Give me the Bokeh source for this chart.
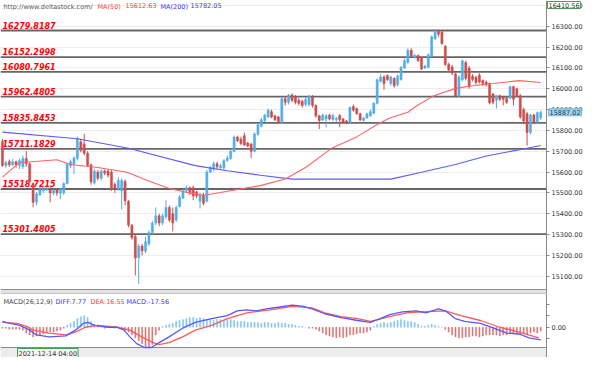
from bokeh.plotting import figure
from bokeh.models import Range1d, Label, SingleIntervalTicker, FixedTicker, PrintfTickFormatter, ColumnDataSource
from bokeh.core.properties import value
from bokeh.layouts import column
from bokeh.embed import file_html
from bokeh.resources import INLINE

# ---------------- data ----------------
ohlc = [
    (15746, 15632, 15760, 15625), (15632, 15645, 15655, 15620), (15650, 15635, 15660, 15625),
    (15635, 15650, 15662, 15628), (15650, 15635, 15655, 15620), (15632, 15655, 15665, 15615),
    (15625, 15665, 15680, 15615), (15665, 15640, 15700, 15625), (15640, 15555, 15645, 15545),
    (15545, 15455, 15550, 15430), (15455, 15495, 15505, 15440), (15490, 15518, 15528, 15485),
    (15510, 15525, 15535, 15500), (15518, 15520, 15530, 15510), (15520, 15500, 15528, 15455),
    (15498, 15512, 15520, 15490), (15515, 15500, 15522, 15485), (15498, 15518, 15525, 15470),
    (15500, 15545, 15550, 15490), (15545, 15638, 15645, 15540), (15630, 15650, 15660, 15620),
    (15640, 15668, 15675, 15590), (15665, 15760, 15770, 15655), (15745, 15705, 15760, 15695),
    (15735, 15690, 15783, 15680), (15690, 15632, 15700, 15625), (15635, 15553, 15640, 15540),
    (15548, 15605, 15615, 15540), (15600, 15570, 15610, 15560), (15570, 15605, 15612, 15560),
    (15605, 15595, 15612, 15585),
    (15605, 15585, 15615, 15575), (15600, 15520, 15610, 15510), (15540, 15525, 15550, 15500),
    (15520, 15560, 15575, 15510), (15510, 15560, 15570, 15420), (15555, 15462, 15565, 15440),
    (15460, 15345, 15465, 15335), (15345, 15285, 15350, 15275), (15290, 15187, 15300, 15103),
    (15190, 15245, 15255, 15063), (15245, 15222, 15255, 15200), (15220, 15265, 15290, 15210),
    (15255, 15310, 15320, 15245), (15310, 15355, 15365, 15300), (15355, 15390, 15430, 15345),
    (15390, 15355, 15400, 15340), (15355, 15390, 15400, 15345), (15385, 15430, 15465, 15375),
    (15430, 15370, 15440, 15360), (15400, 15355, 15430, 15315), (15370, 15430, 15440, 15360),
    (15435, 15480, 15490, 15430), (15475, 15510, 15520, 15470), (15510, 15525, 15535, 15500),
    (15525, 15500, 15530, 15490), (15525, 15485, 15535, 15465), (15505, 15485, 15510, 15475),
    (15460, 15490, 15500, 15425), (15490, 15450, 15500, 15440), (15460, 15600, 15610, 15455),
    (15600, 15622, 15630, 15595), (15615, 15640, 15650, 15605), (15640, 15625, 15650, 15615),
    (15620, 15630, 15640, 15612), (15620, 15655, 15662, 15610), (15655, 15668, 15680, 15650),
    (15665, 15700, 15708, 15660), (15700, 15768, 15775, 15695), (15768, 15750, 15775, 15745),
    (15758, 15737, 15770, 15730), (15775, 15730, 15790, 15725), (15740, 15725, 15745, 15720),
    (15735, 15700, 15740, 15668), (15700, 15783, 15790, 15695), (15780, 15828, 15835, 15775),
    (15820, 15851, 15860, 15815), (15848, 15874, 15880, 15840), (15865, 15897, 15905, 15860),
    (15890, 15865, 15900, 15858), (15870, 15851, 15875, 15845), (15865, 15838, 15870, 15830),
    (15838, 15952, 15960, 15830), (15952, 15935, 15965, 15920), (15935, 15970, 15975, 15925),
    (15970, 15945, 15978, 15935), (15960, 15935, 15970, 15925), (15945, 15930, 15955, 15920),
    (15940, 15920, 15948, 15910), (15925, 15950, 15958, 15915), (15925, 15965, 15970, 15915),
    (15960, 15920, 15970, 15910), (15920, 15870, 15925, 15860), (15870, 15848, 15875, 15806),
    (15850, 15874, 15880, 15845), (15855, 15870, 15878, 15815), (15874, 15855, 15880, 15848),
    (15852, 15872, 15880, 15845), (15852, 15858, 15865, 15840), (15872, 15852, 15878, 15815),
    (15855, 15840, 15860, 15832), (15845, 15835, 15850, 15830), (15838, 15910, 15915, 15832),
    (15915, 15897, 15925, 15890), (15905, 15880, 15910, 15875), (15880, 15850, 15885, 15845),
    (15848, 15860, 15865, 15843), (15860, 15880, 15885, 15855), (15870, 15890, 15900, 15865),
    (15883, 15930, 15935, 15878), (15930, 16043, 16050, 15925), (16035, 16057, 16070, 16030),
    (16057, 16025, 16065, 15995), (16064, 16043, 16068, 16038), (16025, 16057, 16062, 16015),
    (16050, 16015, 16055, 16005), (16020, 16062, 16068, 16010), (16043, 16103, 16110, 16040),
    (16100, 16135, 16145, 16095), (16126, 16185, 16195, 16120), (16185, 16158, 16195, 16150),
    (16150, 16160, 16168, 16145), (16160, 16135, 16165, 16130), (16150, 16095, 16155, 16090),
    (16100, 16110, 16115, 16095), (16103, 16163, 16170, 16098), (16158, 16250, 16256, 16150),
    (16240, 16272, 16286, 16235), (16275, 16262, 16280, 16250), (16272, 16218, 16280, 16210),
    (16204, 16117, 16210, 16110), (16117, 16090, 16125, 16080), (16105, 16075, 16115, 16065),
    (16071, 15966, 16080, 15960), (15966, 16057, 16065, 15960), (16043, 16135, 16140, 16035),
    (16126, 16050, 16135, 16040), (16100, 16012, 16110, 16000), (16060, 16045, 16070, 16035),
    (16055, 16030, 16062, 16020), (16065, 16032, 16075, 16025), (16040, 16025, 16045, 16015),
    (16032, 16020, 16040, 16010), (16025, 15933, 16030, 15925), (15975, 15935, 15980, 15925),
    (15945, 15966, 15970, 15905), (15966, 15950, 15972, 15940), (15960, 15950, 15966, 15920),
    (15955, 15935, 15960, 15928), (15955, 16010, 16015, 15950), (16010, 15950, 16015, 15920),
    (16000, 15966, 16005, 15960), (15966, 15865, 15975, 15855), (15900, 15845, 15910, 15830),
    (15880, 15790, 15890, 15727), (15790, 15874, 15880, 15780), (15874, 15840, 15880, 15830),
    (15840, 15885, 15890, 15830), (15860, 15887.02, 15895, 15850),
]
open_ = [r[0] for r in ohlc]
close_ = [r[1] for r in ohlc]
high_ = [r[2] for r in ohlc]
low_ = [r[3] for r in ohlc]

ma50_x = [0, 5, 16, 20, 28, 36.6, 42, 49, 56.6, 59.4, 66, 75.7, 83, 89, 96.6, 104, 110, 113.7,
          119, 121.7, 126.6, 129, 133, 138.6, 144, 151.7, 158]
ma50_v = [15576, 15645, 15659, 15636, 15622, 15599, 15563, 15521, 15494, 15489, 15508, 15535,
          15567, 15622, 15714, 15769, 15828, 15860, 15887, 15920, 15966, 15980, 16002, 16016,
          16025, 16039, 16030]
ma200_x = [0, 22, 37, 56.6, 66, 75.7, 85, 99, 114, 123, 133, 142, 154, 158]
ma200_v = [15792, 15760, 15714, 15631, 15606, 15585, 15566, 15566, 15566, 15599, 15636, 15677,
           15714, 15728]

levels = [16279.8187, 16152.2998, 16080.7961, 15962.4805, 15835.8453, 15711.1829, 15518.7215, 15301.4805]
level_text = ["16279.8187", "16152.2998", "16080.7961", "15962.4805", "15835.8453", "15711.1829",
              "15518.7215", "15301.4805"]

hist = ([-1, -1, -2, -2, -2, -2] + [-3, -6, -8, -10, -9] + [-8, -7, -6, -5, -5] + [-4, -3, -1]
        + [2, 4, 6, 9, 11, 12, 10, 6, 3] + [1, 0, -1, 1, 0, -1, -1, -2]
        + [-3, -5, -8, -11, -14, -17, -20, -21, -18] + [-8, -3] + [1, 2, 3, 4]
        + [6, 7, 8, 9, 10, 10, 9, 10, 9, 8, 8, 7] + [8, 8, 7, 8, 8, 7, 6, 6, 6, 5]
        + [5, 5, 5, 4, 5, 5, 4, 4, 5, 4, 4, 3, 3] + [2, 1, 1, 0, -1, -1, -2, -4]
        + [-6, -8, -9, -10, -11, -10, -11, -10, -8, -8, -7, -6, -6, -5, -3]
        + [1, 3, 4, 5, 4, 5] + [6, 7, 8, 7, 6, 6, 5, 3, 1] + [1, 2, 3, 2, 1, 0, -2]
        + [-5, -8, -10, -11, -11, -10, -10, -9, -9, -10, -9, -8, -8, -8, -8, -9, -8, -8, -7, -7,
           -7, -8, -7, -7, -6, -5, -6, -4])
hist = [h * 5 for h in hist]

diff_x = [0, 2.3, 5.1, 8, 10, 13.7, 18.6, 21.4, 23.7, 25.1, 27.1, 30.9, 33.7, 35.7, 37.4, 39.4,
          41.7, 43.7, 46, 48.9, 52.9, 56.6, 61.4, 66, 68.9, 71.7, 74.6, 77.4, 81.4, 85.1, 88,
          90.9, 94.6, 99.4, 104.3, 108, 110.9, 113.7, 117.4, 121.4, 124.3, 128, 130, 132.9,
          135.7, 140.3, 144.3, 148, 151.7, 154.6, 158]
diff_v = [30, 20, 10, -15, -40, -50, -45, -15, 20, 25, 10, 0, 0, -15, -50, -85, -105, -105, -80,
          -50, -5, 25, 45, 60, 85, 90, 85, 95, 105, 115, 110, 95, 70, 50, 35, 25, 45, 65, 80, 85,
          75, 95, 85, 45, 30, 20, -5, -30, -35, -55, -65]
dea_x = [0, 4.3, 7.1, 8.9, 13.7, 18.6, 21.4, 24.3, 28, 33.7, 37.4, 41.4, 44.3, 46, 48.9, 52.9,
         56.6, 61.4, 66, 71.7, 78.6, 85.1, 90.9, 94.6, 99.4, 104.3, 108, 113.7, 118.6, 123.1,
         130, 134.6, 140.3, 146, 151.7, 157.4]
dea_v = [25, 20, 5, -15, -30, -40, -25, 0, 10, 0, -15, -55, -80, -90, -80, -50, -15, 10, 45, 75,
         90, 108, 100, 75, 55, 45, 30, 55, 75, 80, 85, 60, 35, 0, -25, -55]

# ---------------- layout ----------------
N = len(close_)
idx = list(range(N))
W = 584          # total width
FW = 546         # width of the chart area (left of the price axis)
P1_H, SEP = 289, 4
P2_H, DATE_H = 54, 10

x0 = -0.57
span = N + 0.7 - x0
axis_loc = x0 + span                    # where the price axis sits
x_end = x0 + span * W / FW
xr = Range1d(x0, x_end)

price_lo, price_hi = 15036, 16424
ppx = (price_hi - price_lo) / P1_H
yr = Range1d(price_lo - SEP * ppx, price_hi)

BLUE, RED = "#52aee6", "#c94f4f"
FONT = "DejaVu Sans"


def style_axis(ax):
    ax.major_label_text_font = FONT
    ax.major_label_text_font_size = "6.5px"
    ax.major_label_text_color = "#333333"
    ax.axis_line_color = "#888888"
    ax.major_tick_line_color = "#888888"
    ax.major_tick_out = 3
    ax.major_tick_in = 0
    ax.minor_tick_out = 0
    ax.minor_tick_in = 0
    ax.major_label_standoff = 2
    ax.fixed_location = axis_loc


p1 = figure(width=W, height=P1_H + SEP, x_range=xr, y_range=yr, y_axis_location="right",
            output_backend="svg", toolbar_location=None, min_border=0)
p1.outline_line_color = None
p1.xaxis.visible = False
p1.xgrid.visible = False
p1.ygrid.grid_line_color = "#ededed"
p1.ygrid.ticker = SingleIntervalTicker(interval=100)
ya = p1.yaxis[0]
ya.ticker = SingleIntervalTicker(interval=100)
ya.formatter = PrintfTickFormatter(format="%.2f")
style_axis(ya)

# white area under the price axis, separator band under the chart
p1.quad(left=[axis_loc], right=[x_end], bottom=[yr.start], top=[yr.end], fill_color="white",
        line_color=None)
p1.quad(left=[x0], right=[axis_loc], bottom=[yr.start], top=[price_lo], fill_color="#e2e2e2",
        line_color=None)
p1.segment(x0=[x0], y0=[price_lo], x1=[axis_loc], y1=[price_lo], line_color="#909090", line_width=1)

src = ColumnDataSource(dict(x=idx, o=open_, c=close_, h=high_, l=low_,
                            top=[max(a, b) for a, b in zip(open_, close_)],
                            bot=[min(a, b) for a, b in zip(open_, close_)],
                            col=[BLUE if c >= o else RED for o, c in zip(open_, close_)]))

# level lines + labels
lsrc = ColumnDataSource(dict(x0=[x0] * len(levels), x1=[axis_loc] * len(levels), y=levels,
                             t=level_text))
p1.segment(x0="x0", y0="y", x1="x1", y1="y", source=lsrc, line_color="#666666", line_width=1.8)
p1.text(x="x0", y="y", text="t", source=lsrc, x_offset=2, y_offset=-2,
        text_baseline="bottom", text_font=value(FONT), text_font_style="bold italic",
        text_font_size="8px", text_color="#ff0000")

p1.segment(x0="x", y0="h", x1="x", y1="l", source=src, line_color="col", line_width=1)
p1.vbar(x="x", top="top", bottom="bot", width=0.62, source=src, fill_color="col", line_color="col",
        line_width=0.5)
p1.line(ma200_x, ma200_v, line_color="#5c5cff", line_width=1.1)
p1.line(ma50_x, ma50_v, line_color="#ff6464", line_width=1.1)

# top legend
for txt, off, colr in [("http://www.deltastock.com/", 3, "#555555"), ("MA(50)", 97, "#ff4040"),
                       ("15612.63", 125, "#ff4040"), ("MA(200)", 160, "#3535ff"),
                       ("15782.05", 190, "#3535ff")]:
    p1.add_layout(Label(x=x0, y=price_hi, x_offset=off, y_offset=-2, text=txt,
                        text_baseline="top", text_font=FONT, text_font_size="6.5px",
                        text_color=colr))

# right-axis boxes
p1.add_layout(Label(x=axis_loc, y=close_[-1], x_offset=2, text="15887.02", text_baseline="middle",
                    text_font=FONT, text_font_size="6.5px", text_color="#333333",
                    background_fill_color="#9fd5f3", border_line_color="#6fb5e0", padding=1))
p1.add_layout(Label(x=axis_loc, y=price_hi, x_offset=1, y_offset=-1, text="16410.56",
                    text_baseline="top", text_font=FONT, text_font_size="6.5px",
                    text_color="#333333", background_fill_color="#ffffff",
                    border_line_color="#4f9a4f", padding=1))

# ---------------- MACD panel ----------------
m_lo, m_hi = -105, 175
mpx = (m_hi - m_lo) / P2_H
yr2 = Range1d(m_lo - DATE_H * mpx, m_hi)
p2 = figure(width=W, height=P2_H + DATE_H, x_range=xr, y_range=yr2, y_axis_location="right",
            output_backend="svg", toolbar_location=None, min_border=0)
p2.outline_line_color = None
p2.xaxis.visible = False
p2.xgrid.visible = False
p2.ygrid.visible = False

p2.quad(left=[x0], right=[axis_loc], bottom=[yr2.start], top=[m_lo], fill_color="#ececec",
        line_color=None)
p2.segment(x0=[x0, x0], y0=[m_lo, m_hi], x1=[axis_loc, axis_loc], y1=[m_lo, m_hi],
           line_color="#8a8a8a", line_width=1.2)

hsrc = ColumnDataSource(dict(x=list(range(len(hist))), v=hist,
                             col=["#7cc3ec" if v >= 0 else "#d47272" for v in hist]))
p2.vbar(x="x", top="v", bottom=0, width=0.3, source=hsrc, fill_color="col", line_color="col",
        line_width=0.5)
p2.line(dea_x, dea_v, line_color="#ff5a5a", line_width=1.3)
p2.line(diff_x, diff_v, line_color="#5858ff", line_width=1.3)

ya2 = p2.yaxis[0]
ya2.ticker = FixedTicker(ticks=[-60, 0, 60, 120])
ya2.major_label_overrides = {-60: "", 0: "0.00", 60: "", 120: ""}
style_axis(ya2)

for txt, off, colr in [("MACD(26,12,9)", 3, "#444444"), ("DIFF:7.77", 55, "#3a3aff"),
                       ("DEA:16.55", 90, "#ff3a3a"), ("MACD:-17.56", 126, "#3a3aff")]:
    p2.add_layout(Label(x=x0, y=m_hi, x_offset=off, y_offset=-4, text=txt,
                        text_baseline="top", text_font=FONT, text_font_size="6.5px",
                        text_color=colr))

p2.add_layout(Label(x=x0, y=m_lo, x_offset=17, y_offset=-1, text="2021-12-14 04:00",
                    text_baseline="top", text_font=FONT, text_font_size="6.5px",
                    text_color="#333333", background_fill_color="#f4f4f4",
                    border_line_color="#4f9a4f", padding=1))

layout = column(p1, p2)
open("out.html", "w").write(file_html(layout, INLINE))
